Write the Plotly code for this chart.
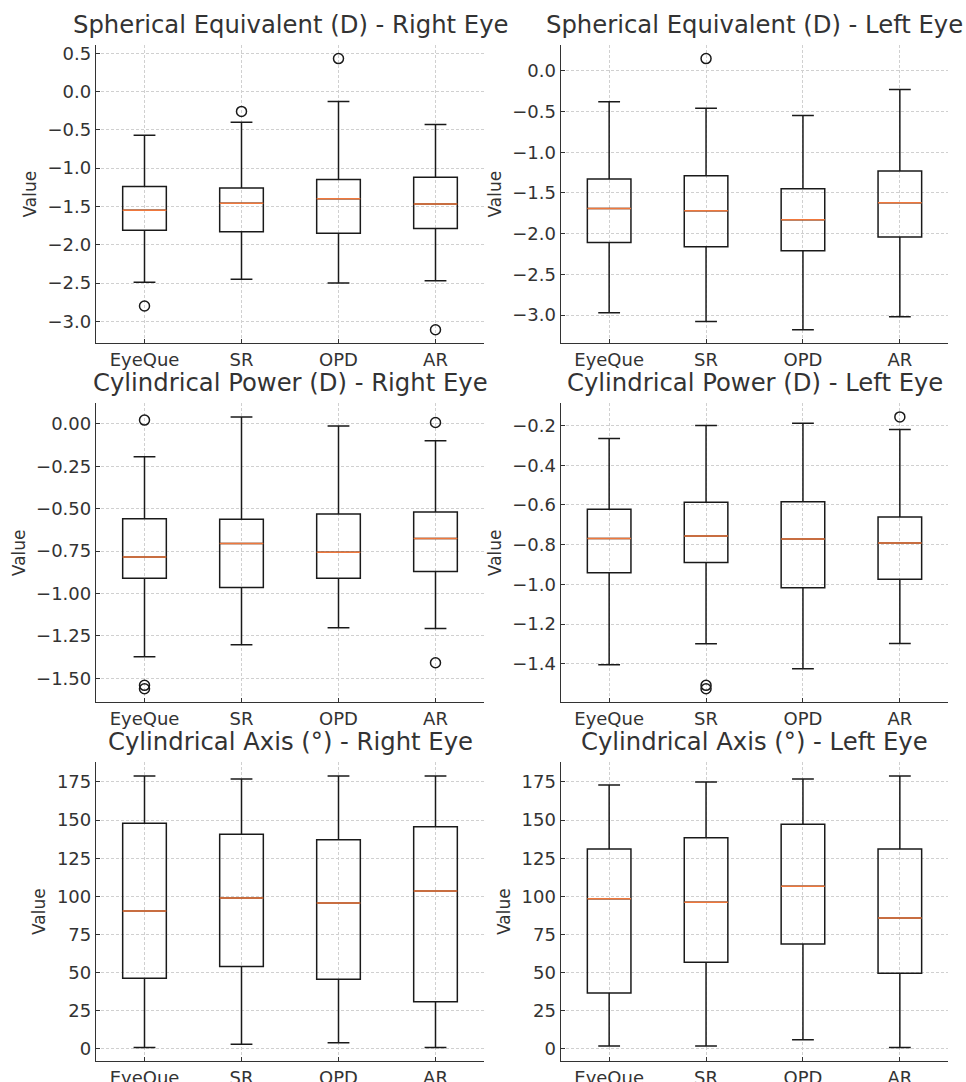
# -*- coding: utf-8 -*-
"""
Boxplots de refraccion (EyeQue, SR, OPD, AR) por ojo, en una grilla 3x2.
"""

import plotly.graph_objects as go
from plotly.subplots import make_subplots

# -- Datos ----------------------------------------------------------------------
METODOS = ["EyeQue", "SR", "OPD", "AR"]

# Equivalente esferico - ojo derecho
se_r_q1     = [-1.81, -1.83, -1.85, -1.79]
se_r_med    = [-1.55, -1.46, -1.40, -1.47]
se_r_q3     = [-1.24, -1.26, -1.15, -1.12]
se_r_lo     = [-2.49, -2.45, -2.50, -2.47]
se_r_hi     = [-0.57, -0.40, -0.13, -0.43]
se_r_out_x  = ["EyeQue", "SR", "OPD", "AR"]
se_r_out_y  = [-2.80, -0.26, 0.43, -3.11]

# Equivalente esferico - ojo izquierdo
se_l_q1     = [-2.11, -2.16, -2.21, -2.04]
se_l_med    = [-1.69, -1.72, -1.83, -1.62]
se_l_q3     = [-1.33, -1.29, -1.45, -1.23]
se_l_lo     = [-2.97, -3.08, -3.18, -3.02]
se_l_hi     = [-0.38, -0.46, -0.55, -0.23]
se_l_out_x  = ["SR"]
se_l_out_y  = [0.15]

# Potencia cilindrica - ojo derecho
cp_r_q1     = [-0.91, -0.965, -0.91, -0.87]
cp_r_med    = [-0.785, -0.705, -0.757, -0.675]
cp_r_q3     = [-0.56, -0.563, -0.531, -0.52]
cp_r_lo     = [-1.373, -1.302, -1.202, -1.206]
cp_r_hi     = [-0.194, 0.041, -0.012, -0.10]
cp_r_out_x  = ["EyeQue", "EyeQue", "EyeQue", "AR", "AR"]
cp_r_out_y  = [0.022, -1.541, -1.561, 0.008, -1.408]

# Potencia cilindrica - ojo izquierdo
cp_l_q1     = [-0.942, -0.89, -1.017, -0.974]
cp_l_med    = [-0.769, -0.756, -0.772, -0.791]
cp_l_q3     = [-0.621, -0.586, -0.584, -0.66]
cp_l_lo     = [-1.405, -1.299, -1.425, -1.298]
cp_l_hi     = [-0.265, -0.20, -0.188, -0.22]
cp_l_out_x  = ["SR", "SR", "AR"]
cp_l_out_y  = [-1.509, -1.526, -0.156]

# Eje cilindrico - ojo derecho
ca_r_q1     = [46.3, 54.0, 45.7, 31.0]
ca_r_med    = [90.5, 99.0, 95.7, 103.6]
ca_r_q3     = [147.9, 140.7, 137.2, 145.7]
ca_r_lo     = [1, 3, 4, 1]
ca_r_hi     = [179, 177, 179, 179]
ca_r_out_x  = []
ca_r_out_y  = []

# Eje cilindrico - ojo izquierdo
ca_l_q1     = [36.7, 56.8, 68.8, 49.6]
ca_l_med    = [98.5, 96.1, 106.6, 85.9]
ca_l_q3     = [131.1, 138.5, 147.3, 131.1]
ca_l_lo     = [2, 2, 6, 1]
ca_l_hi     = [173, 175, 177, 179]
ca_l_out_x  = []
ca_l_out_y  = []

TITULOS = [
    "Spherical Equivalent (D) - Right Eye", "Spherical Equivalent (D) - Left Eye",
    "Cylindrical Power (D) - Right Eye", "Cylindrical Power (D) - Left Eye",
    "Cylindrical Axis (°) - Right Eye", "Cylindrical Axis (°) - Left Eye",
]

PANELES = [
    (se_r_q1, se_r_med, se_r_q3, se_r_lo, se_r_hi, se_r_out_x, se_r_out_y),
    (se_l_q1, se_l_med, se_l_q3, se_l_lo, se_l_hi, se_l_out_x, se_l_out_y),
    (cp_r_q1, cp_r_med, cp_r_q3, cp_r_lo, cp_r_hi, cp_r_out_x, cp_r_out_y),
    (cp_l_q1, cp_l_med, cp_l_q3, cp_l_lo, cp_l_hi, cp_l_out_x, cp_l_out_y),
    (ca_r_q1, ca_r_med, ca_r_q3, ca_r_lo, ca_r_hi, ca_r_out_x, ca_r_out_y),
    (ca_l_q1, ca_l_med, ca_l_q3, ca_l_lo, ca_l_hi, ca_l_out_x, ca_l_out_y),
]

DTICK   = [0.5, 0.5, 0.25, 0.2, 25, 25]
FORMATO = [".1f", ".1f", ".2f", ".1f", "d", "d"]

# -- Estilo / geometria --------------------------------------------------------
ANCHO, ALTO = 966, 1082
TEXTO       = "#333333"
NARANJA     = "#f0783c"
GRILLA      = "#d0d0d0"
FUENTE      = "DejaVu Sans"

X_DOM = [[96 / ANCHO, 484 / ANCHO], [560.7 / ANCHO, 948.3 / ANCHO]]
Y_PX  = [(45, 343.3), (403.3, 702.3), (762.3, 1061)]
Y_DOM = [[1 - b / ALTO, 1 - t / ALTO] for t, b in Y_PX]

# -- Grafico -------------------------------------------------------------------
fig = make_subplots(rows=3, cols=2)

for i, (q1, med, q3, lo, hi, out_x, out_y) in enumerate(PANELES):
    fila, col = i // 2 + 1, i % 2 + 1

    # caja + bigotes
    fig.add_trace(go.Box(
        x=METODOS, q1=q1, median=med, q3=q3, lowerfence=lo, upperfence=hi,
        width=0.45, whiskerwidth=0.5, boxpoints=False,
        line=dict(color="#1a1a1a", width=1.5),
        fillcolor="rgba(0,0,0,0)", showlegend=False, hoverinfo="skip",
    ), row=fila, col=col)

    # mediana en naranja (caja de altura cero encima)
    fig.add_trace(go.Box(
        x=METODOS, q1=med, median=med, q3=med, lowerfence=med, upperfence=med,
        width=0.45, whiskerwidth=0, boxpoints=False,
        line=dict(color=NARANJA, width=1.5),
        fillcolor="rgba(0,0,0,0)", showlegend=False, hoverinfo="skip",
    ), row=fila, col=col)

    # outliers
    if out_x:
        fig.add_trace(go.Scatter(
            x=out_x, y=out_y, mode="markers",
            marker=dict(symbol="circle-open", size=10, color="#1a1a1a",
                        line=dict(width=1.5, color="#1a1a1a")),
            showlegend=False, hoverinfo="skip",
        ), row=fila, col=col)

    # rango tipo matplotlib (5% de margen)
    vmin = min(lo + out_y)
    vmax = max(hi + out_y)
    pad = (vmax - vmin) * 0.05

    n = "" if i == 0 else str(i + 1)
    fig.layout["xaxis" + n].update(
        domain=X_DOM[col - 1], type="category", categoryorder="array",
        categoryarray=METODOS, range=[-0.5, 3.5], automargin=False,
        showline=True, linecolor=TEXTO, linewidth=1.3, mirror=False,
        ticks="inside", ticklen=4, tickcolor=TEXTO,
        showgrid=True, gridcolor=GRILLA, griddash="3px,2px", gridwidth=0.8,
        zeroline=False, tickfont=dict(size=18, color=TEXTO, family=FUENTE),
    )
    fig.layout["yaxis" + n].update(
        domain=Y_DOM[fila - 1], range=[vmin - pad, vmax + pad],
        dtick=DTICK[i], tickformat=FORMATO[i], automargin=False,
        showline=True, linecolor=TEXTO, linewidth=1.3, mirror=False,
        ticks="inside", ticklen=4, tickcolor=TEXTO,
        showgrid=True, gridcolor=GRILLA, griddash="3px,2px", gridwidth=0.8,
        zeroline=False, tickfont=dict(size=18, color=TEXTO, family=FUENTE),
        title=dict(text="Value", standoff=6,
                   font=dict(size=17, color=TEXTO, family=FUENTE)),
    )

    # titulo del panel
    fig.add_annotation(
        text=TITULOS[i], xref="paper", yref="paper",
        x=sum(X_DOM[col - 1]) / 2, y=Y_DOM[fila - 1][1],
        xanchor="center", yanchor="bottom", yshift=4, showarrow=False,
        font=dict(size=24.3, color=TEXTO, family=FUENTE),
    )

fig.update_layout(
    width=ANCHO, height=ALTO,
    margin=dict(l=0, r=0, t=0, b=0, autoexpand=False),
    paper_bgcolor="white", plot_bgcolor="white",
    boxmode="overlay",
    font=dict(family=FUENTE, color=TEXTO),
)

# sin el margen de 8px del body la figura ocupa justo la ventana
fig.write_html("out.html", config={"displayModeBar": False},
               post_script="document.body.style.margin='0px';")
